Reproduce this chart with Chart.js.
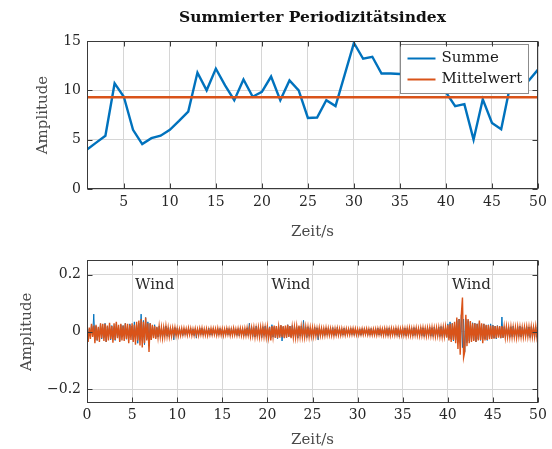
<!DOCTYPE html>
<html><head><meta charset="utf-8">
<script src="https://cdn.jsdelivr.net/npm/chart.js@4.4.0/dist/chart.umd.min.js"></script>
<style>
html,body{margin:0;padding:0;background:#fff;}
#wrap{position:relative;width:552px;height:449px;overflow:hidden;}
#c1{position:absolute;left:0;top:0;}
#c2{position:absolute;left:0;top:246px;}
</style></head><body>
<div id="wrap"><canvas id="c1" width="552" height="246"></canvas><canvas id="c2" width="552" height="203"></canvas></div>
<script>
// ---------- data ----------
const seconds = [1,2,3,4,5,6,7,8,9,10,11,12,13,14,15,16,17,18,19,20,21,22,23,24,25,26,27,28,29,30,31,32,33,34,35,36,37,38,39,40,41,42,43,44,45,46,47,48,49,50];
const summe = [4.0,4.7,5.4,10.7,9.35,6.0,4.55,5.15,5.4,6.0,6.9,7.85,11.8,10.0,12.2,10.5,9.0,11.1,9.35,9.85,11.4,9.0,11.0,10.0,7.2,7.25,9.0,8.4,11.6,14.8,13.2,13.4,11.7,11.7,11.65,11.6,11.8,11.2,10.6,9.8,8.4,8.6,5.0,9.1,6.7,6.05,10.6,10.4,11.0,12.1];
const mittelwert = 9.3;
const topXTicks = [5,10,15,20,25,30,35,40,45,50];
const topYTicks = [0,5,10,15];
const bottomXTicks = [0,5,10,15,20,25,30,35,40,45,50];
const bottomYTicks = [-0.2,0,0.2];
const sampleStep = 0.125; // seconds between samples (8 per second)
const kanal1 = [
0.018,-0.022,0.010,-0.015,0.024,-0.012,0.062,-0.028,
0.020,-0.030,0.012,-0.018,0.028,-0.025,0.015,-0.020,
0.030,-0.035,0.018,-0.012,0.025,-0.028,0.022,-0.016,
0.015,-0.030,0.028,-0.020,0.012,-0.033,0.025,-0.018,
0.022,-0.015,0.030,-0.026,0.018,-0.022,0.028,-0.014,
0.020,-0.028,0.035,-0.018,0.025,-0.040,0.030,-0.022,
0.062,-0.030,0.040,-0.045,0.050,-0.025,0.035,-0.050,
0.030,-0.028,0.022,-0.018,0.025,-0.020,0.015,-0.018,
0.020,-0.016,0.012,-0.020,0.018,-0.012,0.020,-0.015,
0.014,-0.018,0.016,-0.010,0.012,-0.028,0.015,-0.012,
0.012,-0.010,0.014,-0.012,0.008,-0.013,0.011,-0.009,
0.010,-0.012,0.013,-0.008,0.012,-0.011,0.009,-0.013,
0.011,-0.022,0.010,-0.012,0.013,-0.009,0.012,-0.010,
0.009,-0.012,0.011,-0.010,0.013,-0.011,0.008,-0.012,
0.012,-0.009,0.010,-0.013,0.011,-0.010,0.012,-0.008,
0.010,-0.012,0.009,-0.011,0.013,-0.010,0.011,-0.012,
0.012,-0.010,0.014,-0.011,0.009,-0.012,0.011,-0.014,
0.013,-0.011,0.012,-0.015,0.010,-0.012,0.014,-0.013,
0.030,-0.014,0.018,-0.016,0.012,-0.018,0.020,-0.015,
0.016,-0.018,0.014,-0.020,0.018,-0.012,0.020,-0.017,
0.022,-0.016,0.018,-0.022,0.025,-0.018,0.016,-0.020,
0.020,-0.024,0.018,-0.015,0.022,-0.032,0.017,-0.020,
0.018,-0.020,0.025,-0.016,0.020,-0.018,0.022,-0.015,
0.020,-0.018,0.016,-0.022,0.018,-0.014,0.020,-0.016,
0.040,-0.018,0.016,-0.020,0.018,-0.015,0.014,-0.017,
0.015,-0.013,0.016,-0.012,0.014,-0.028,0.012,-0.013,
0.013,-0.014,0.011,-0.012,0.014,-0.010,0.012,-0.013,
0.014,-0.011,0.015,-0.012,0.010,-0.013,0.016,-0.011,
0.012,-0.013,0.010,-0.011,0.013,-0.012,0.011,-0.010,
0.011,-0.010,0.012,-0.009,0.011,-0.012,0.010,-0.011,
0.010,-0.011,0.009,-0.012,0.011,-0.009,0.012,-0.010,
0.011,-0.012,0.010,-0.010,0.012,-0.011,0.009,-0.012,
0.012,-0.010,0.013,-0.011,0.010,-0.013,0.012,-0.011,
0.013,-0.012,0.011,-0.013,0.014,-0.011,0.012,-0.012,
0.012,-0.011,0.013,-0.012,0.011,-0.018,0.012,-0.013,
0.014,-0.012,0.013,-0.014,0.012,-0.013,0.015,-0.012,
0.013,-0.014,0.015,-0.012,0.014,-0.013,0.012,-0.014,
0.015,-0.013,0.014,-0.016,0.013,-0.015,0.016,-0.014,
0.016,-0.015,0.014,-0.016,0.017,-0.014,0.015,-0.017,
0.017,-0.016,0.019,-0.015,0.018,-0.020,0.016,-0.018,
0.028,-0.022,0.035,-0.025,0.030,-0.032,0.025,-0.028,
0.040,-0.035,0.045,-0.040,0.060,-0.055,0.045,-0.070,
0.045,-0.038,0.040,-0.032,0.035,-0.030,0.032,-0.028,
0.030,-0.035,0.028,-0.025,0.032,-0.030,0.026,-0.024,
0.028,-0.025,0.022,-0.030,0.025,-0.022,0.028,-0.020,
0.024,-0.022,0.020,-0.025,0.022,-0.018,0.020,-0.022,
0.052,-0.020,0.018,-0.016,0.020,-0.018,0.016,-0.019,
0.018,-0.016,0.020,-0.018,0.015,-0.020,0.018,-0.016,
0.020,-0.018,0.016,-0.015,0.019,-0.017,0.018,-0.014,
0.017,-0.020,0.018,-0.016,0.020,-0.018,0.016,-0.019,
0.015];
const kanal2 = [
0.020,-0.035,0.015,-0.025,0.028,-0.018,0.022,-0.040,
0.025,-0.030,0.018,-0.035,0.030,-0.022,0.028,-0.032,
0.028,-0.035,0.022,-0.030,0.032,-0.025,0.020,-0.038,
0.030,-0.028,0.035,-0.022,0.025,-0.035,0.028,-0.030,
0.022,-0.032,0.030,-0.025,0.028,-0.040,0.025,-0.028,
0.030,-0.035,0.025,-0.045,0.035,-0.030,0.040,-0.048,
0.045,-0.055,0.035,-0.040,0.050,-0.030,0.030,-0.070,
0.030,-0.028,0.025,-0.022,0.020,-0.025,0.018,-0.020,
0.020,-0.018,0.016,-0.022,0.015,-0.018,0.020,-0.016,
0.015,-0.018,0.012,-0.016,0.014,-0.012,0.015,-0.014,
0.012,-0.014,0.010,-0.013,0.012,-0.011,0.013,-0.010,
0.011,-0.012,0.013,-0.010,0.012,-0.013,0.010,-0.012,
0.012,-0.011,0.010,-0.013,0.012,-0.010,0.013,-0.012,
0.010,-0.012,0.011,-0.013,0.009,-0.011,0.012,-0.010,
0.012,-0.010,0.011,-0.012,0.013,-0.011,0.010,-0.012,
0.011,-0.013,0.010,-0.011,0.012,-0.010,0.011,-0.013,
0.010,-0.012,0.013,-0.011,0.010,-0.012,0.012,-0.011,
0.012,-0.013,0.011,-0.014,0.012,-0.013,0.014,-0.012,
0.014,-0.016,0.015,-0.014,0.016,-0.018,0.014,-0.016,
0.016,-0.018,0.017,-0.016,0.018,-0.017,0.016,-0.019,
0.018,-0.020,0.016,-0.030,0.020,-0.018,0.022,-0.020,
0.020,-0.022,0.018,-0.020,0.024,-0.019,0.020,-0.022,
0.022,-0.020,0.025,-0.018,0.020,-0.022,0.018,-0.020,
0.018,-0.020,0.020,-0.018,0.022,-0.017,0.019,-0.018,
0.017,-0.019,0.018,-0.016,0.017,-0.018,0.015,-0.016,
0.015,-0.016,0.014,-0.015,0.013,-0.014,0.015,-0.013,
0.013,-0.014,0.012,-0.013,0.014,-0.012,0.013,-0.012,
0.012,-0.013,0.011,-0.014,0.012,-0.011,0.013,-0.012,
0.011,-0.012,0.012,-0.011,0.010,-0.012,0.011,-0.010,
0.010,-0.011,0.011,-0.010,0.012,-0.010,0.011,-0.011,
0.010,-0.011,0.009,-0.010,0.011,-0.010,0.010,-0.009,
0.011,-0.010,0.010,-0.011,0.009,-0.011,0.010,-0.011,
0.010,-0.012,0.011,-0.010,0.012,-0.011,0.010,-0.012,
0.012,-0.011,0.012,-0.012,0.011,-0.013,0.012,-0.011,
0.011,-0.012,0.013,-0.011,0.012,-0.013,0.011,-0.012,
0.013,-0.012,0.012,-0.014,0.013,-0.012,0.014,-0.013,
0.012,-0.014,0.013,-0.012,0.014,-0.013,0.012,-0.014,
0.014,-0.013,0.015,-0.014,0.013,-0.015,0.014,-0.013,
0.015,-0.014,0.016,-0.015,0.014,-0.016,0.015,-0.014,
0.016,-0.017,0.015,-0.018,0.017,-0.016,0.018,-0.020,
0.025,-0.030,0.028,-0.035,0.030,-0.028,0.035,-0.040,
0.050,-0.060,0.045,-0.080,0.060,0.120,-0.090,-0.070,
0.060,-0.050,0.045,-0.040,0.038,-0.035,0.030,-0.032,
0.030,-0.035,0.028,-0.030,0.040,-0.028,0.030,-0.040,
0.028,-0.030,0.025,-0.028,0.024,-0.026,0.022,-0.025,
0.022,-0.024,0.020,-0.022,0.021,-0.020,0.019,-0.022,
0.020,-0.021,0.018,-0.020,0.019,-0.018,0.017,-0.019,
0.018,-0.019,0.017,-0.018,0.016,-0.020,0.018,-0.017,
0.017,-0.018,0.016,-0.018,0.017,-0.016,0.018,-0.017,
0.018,-0.017,0.019,-0.018,0.016,-0.018,0.020,-0.017,
0.016];
const windTexts = ['Wind','Wind','Wind'];
const windTimes = [7.5,22.6,42.6];
const windAmp = 0.162;

// ---------- styling helpers ----------
const FONT = "'DejaVu Serif', serif";
const BLUE = '#0072BD', ORANGE = '#D95319';
const GRID = '#d6d6d6', FRAME = '#3a3a3a';

const framePlugin = {
  id: 'frame',
  afterDraw(chart) {
    const {ctx, chartArea: a, scales: {x, y}} = chart;
    ctx.save();
    ctx.strokeStyle = FRAME; ctx.lineWidth = 1;
    ctx.beginPath();
    const L = Math.round(a.left) + 0.5, R = Math.round(a.right) - 0.5, T = Math.round(a.top) + 0.5, B = Math.round(a.bottom) - 0.5;
    x.ticks.forEach(t => { const p = Math.round(x.getPixelForValue(t.value)) + 0.5;
      ctx.moveTo(p, B); ctx.lineTo(p, B - 5); ctx.moveTo(p, T); ctx.lineTo(p, T + 5); });
    y.ticks.forEach(t => { const p = Math.round(y.getPixelForValue(t.value)) + 0.5;
      ctx.moveTo(L, p); ctx.lineTo(L + 5, p); ctx.moveTo(R, p); ctx.lineTo(R - 5, p); });
    ctx.stroke();
    ctx.strokeRect(L, T, R - L, B - T);
    ctx.restore();
  }
};

const legendPlugin = {
  id: 'boxLegend',
  afterDatasetsDraw(chart) {
    const {ctx, chartArea: a} = chart;
    const w = 128, h = 49;
    const x0 = Math.round(a.right) - 10 - w + 0.5, y0 = Math.round(a.top) + 3 + 0.5;
    ctx.save();
    ctx.fillStyle = '#fff'; ctx.fillRect(x0, y0, w, h);
    ctx.strokeStyle = '#8c8c8c'; ctx.lineWidth = 1; ctx.strokeRect(x0, y0, w, h);
    ctx.font = "15px " + FONT; ctx.textBaseline = 'middle'; ctx.fillStyle = '#1a1a1a';
    chart.data.datasets.forEach((ds, i) => {
      const yy = y0 + 14 + i * 21;
      ctx.strokeStyle = ds.borderColor; ctx.lineWidth = 2;
      ctx.beginPath(); ctx.moveTo(x0 + 7, yy); ctx.lineTo(x0 + 35, yy); ctx.stroke();
      ctx.fillText(ds.label, x0 + 41, yy);
    });
    ctx.restore();
  }
};

const windPlugin = {
  id: 'wind',
  afterDatasetsDraw(chart) {
    const {ctx, scales: {x, y}} = chart;
    ctx.save();
    ctx.font = "15px " + FONT; ctx.fillStyle = '#2a2a2a'; ctx.textAlign = 'center'; ctx.textBaseline = 'middle';
    windTexts.forEach((t, i) => ctx.fillText(t, x.getPixelForValue(windTimes[i]), y.getPixelForValue(windAmp)));
    ctx.restore();
  }
};

function fixedTicks(arr) { return s => { s.ticks = arr.map(v => ({value: v})); }; }
const fmt = v => (v < 0 ? '\u2212' + Math.abs(v) : String(v));
const tickFont = {family: FONT, size: 14};
const TICKC = '#262626', TITLEC = '#4a4a4a';

// ---------- top chart ----------
new Chart(document.getElementById('c1'), {
  type: 'line',
  data: {
    datasets: [
      {label: 'Summe', order: 1, data: seconds.map((s, i) => ({x: s, y: summe[i]})), borderColor: BLUE, borderWidth: 2.4, pointRadius: 0, tension: 0, fill: false},
      {label: 'Mittelwert', order: 0, data: [{x: seconds[0], y: mittelwert}, {x: seconds[seconds.length - 1], y: mittelwert}], borderColor: ORANGE, borderWidth: 2.4, pointRadius: 0, fill: false}
    ]
  },
  options: {
    responsive: false, animation: false, events: [],
    layout: {padding: {left: 0, right: 14, top: 0, bottom: 0}},
    plugins: {
      legend: {display: false}, tooltip: {enabled: false},
      title: {display: true, fullSize: false, text: 'Summierter Periodizitätsindex', color: '#111',
        font: {family: FONT, size: 15.5, weight: 'bold'}, padding: {top: 8.7, bottom: 13.7}}
    },
    scales: {
      x: {type: 'linear', min: 1, max: 50, afterBuildTicks: fixedTicks(topXTicks),
        afterFit: s => { s.height = 57; },
        grid: {color: GRID, drawTicks: false}, border: {display: false},
        ticks: {padding: 5, color: TICKC, font: tickFont, callback: fmt},
        title: {display: true, text: 'Zeit/s', color: TITLEC, font: {family: FONT, size: 15}, padding: {top: 0, bottom: 5}}},
      y: {type: 'linear', min: 0, max: 15, afterBuildTicks: fixedTicks(topYTicks),
        afterFit: s => { s.width = 87; },
        grid: {color: GRID, drawTicks: false}, border: {display: false},
        ticks: {padding: 6, color: TICKC, font: tickFont, callback: fmt},
        title: {display: true, text: 'Amplitude', color: TITLEC, font: {family: FONT, size: 15}, padding: {top: 34, bottom: 0}}}
    }
  },
  plugins: [framePlugin, legendPlugin]
});

// ---------- bottom chart ----------
const t1 = kanal1.map((v, i) => ({x: i * sampleStep, y: v}));
const t2 = kanal2.map((v, i) => ({x: i * sampleStep, y: v}));
new Chart(document.getElementById('c2'), {
  type: 'line',
  data: {
    datasets: [
      {label: 'Kanal 1', order: 1, data: t1, borderColor: BLUE, borderWidth: 1, pointRadius: 0, tension: 0, fill: false},
      {label: 'Kanal 2', order: 0, data: t2, borderColor: ORANGE, borderWidth: 1.4, pointRadius: 0, tension: 0, fill: false}
    ]
  },
  options: {
    responsive: false, animation: false, events: [],
    layout: {padding: {left: 0, right: 14, top: 8.7, bottom: 0}},
    plugins: {legend: {display: false}, tooltip: {enabled: false}},
    scales: {
      x: {type: 'linear', min: 0, max: 50, afterBuildTicks: fixedTicks(bottomXTicks),
        afterFit: s => { s.height = 45.7; },
        grid: {color: GRID, drawTicks: false}, border: {display: false},
        ticks: {padding: 4, color: TICKC, font: tickFont, callback: fmt},
        title: {display: true, text: 'Zeit/s', color: TITLEC, font: {family: FONT, size: 15}, padding: {top: 0, bottom: 0}}},
      y: {type: 'linear', min: -0.25, max: 0.25, afterBuildTicks: fixedTicks(bottomYTicks),
        afterFit: s => { s.width = 87; },
        grid: {color: GRID, drawTicks: false}, border: {display: false},
        ticks: {padding: 6, color: TICKC, font: tickFont, callback: fmt},
        title: {display: true, text: 'Amplitude', color: TITLEC, font: {family: FONT, size: 15}, padding: {top: 18, bottom: 0}}}
    }
  },
  plugins: [windPlugin, framePlugin]
});
</script>
</body></html>
